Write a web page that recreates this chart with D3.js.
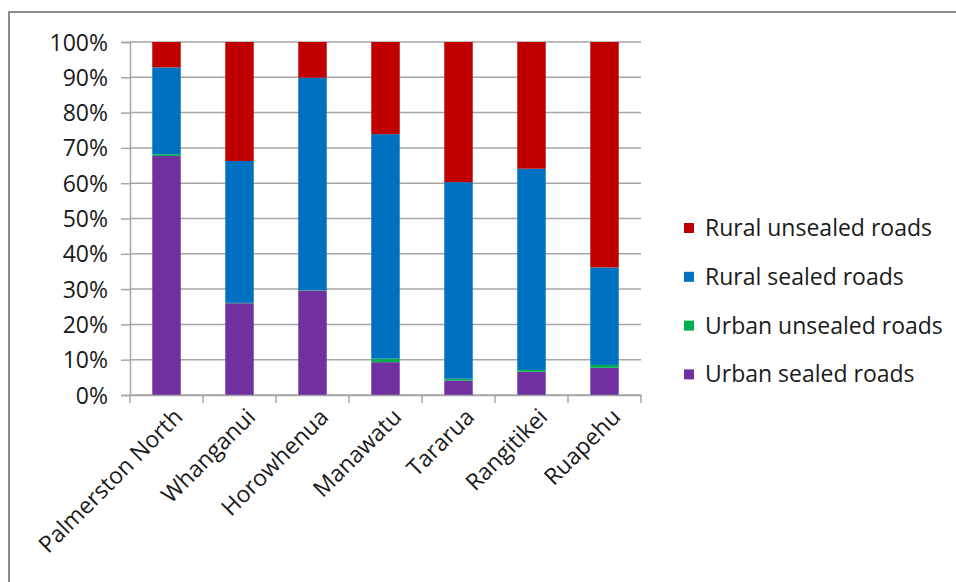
<!DOCTYPE html>
<html>
<head>
<meta charset="utf-8">
<script src="https://cdn.jsdelivr.net/npm/d3@7"></script>
<style>
  html, body { margin: 0; padding: 0; background: #fff; }
  svg { display: block; }
  text { font-family: "Open Sans", sans-serif; fill: #1a1a1a; }
</style>
</head>
<body>
<svg id="chart" width="956" height="582"></svg>
<script>
const categories = ["Palmerston North", "Whanganui", "Horowhenua", "Manawatu", "Tararua", "Rangitikei", "Ruapehu"];
const urbanSealed   = [67.7, 26.0, 29.6, 9.3, 4.1, 6.6, 7.7];
const urbanUnsealed = [0.5, 0.1, 0.1, 1.0, 0.5, 0.5, 0.8];
const ruralSealed   = [24.6, 40.2, 60.2, 63.6, 55.7, 57.0, 27.6];
const ruralUnsealed = [7.2, 33.7, 10.1, 26.1, 39.7, 35.9, 63.8];
const seriesNames = ["Urban sealed roads", "Urban unsealed roads", "Rural sealed roads", "Rural unsealed roads"];
const seriesColors = ["#7030A0", "#00B050", "#0070C0", "#C00000"];
const yTicks = [0, 0.1, 0.2, 0.3, 0.4, 0.5, 0.6, 0.7, 0.8, 0.9, 1.0];

const svg = d3.select("#chart");
const pLeft = 130, pRight = 641, pTop = 42, pBottom = 395;
const fs = "23px";

// outer chart border
svg.append("rect").attr("x", 9).attr("y", 12).attr("width", 1000).attr("height", 1000)
  .attr("fill", "none").attr("stroke", "#8a8a8a").attr("stroke-width", 2);

const seriesValues = [urbanSealed, urbanUnsealed, ruralSealed, ruralUnsealed];
const keys = ["us", "uu", "rs", "ru"];
const table = categories.map((c, i) => {
  const tot = seriesValues.reduce((s, a) => s + a[i], 0);
  const row = { cat: c };
  keys.forEach((k, j) => row[k] = seriesValues[j][i] / tot);
  return row;
});
const stacked = d3.stack().keys(keys)(table);

const x = d3.scaleBand().domain(categories).range([pLeft, pRight]).paddingInner(0.61).paddingOuter(0.305);
const y = d3.scaleLinear().domain([0, 1]).range([pBottom, pTop]);

// gridlines
svg.append("g").selectAll("line").data(yTicks).join("line")
  .attr("x1", pLeft).attr("x2", pRight)
  .attr("y1", d => y(d)).attr("y2", d => y(d))
  .attr("stroke", "#a6a6a6").attr("stroke-width", 1.5);

// y axis
const yAxis = svg.append("g").attr("transform", `translate(${pLeft},0)`)
  .call(d3.axisLeft(y).tickValues(yTicks).tickFormat(d3.format(".0%")).tickSizeOuter(0).tickSize(9).tickPadding(13));
yAxis.select(".domain").attr("stroke", "#a6a6a6").attr("stroke-width", 1.5);
yAxis.selectAll(".tick line").attr("stroke", "#a6a6a6").attr("stroke-width", 1.5);
yAxis.selectAll("text").style("font-size", fs).attr("fill", "#1a1a1a").attr("dy", "0.35em");

// bars
svg.append("g").selectAll("g").data(stacked).join("g")
  .attr("fill", (d, i) => seriesColors[i])
  .selectAll("rect").data(d => d).join("rect")
  .attr("x", d => x(d.data.cat))
  .attr("width", x.bandwidth())
  .attr("y", d => y(d[1]))
  .attr("height", d => y(d[0]) - y(d[1]));

// x axis
const xb = d3.scaleBand().domain(categories).range([pLeft, pRight]);
const xAxis = svg.append("g").attr("transform", `translate(0,${pBottom})`)
  .call(d3.axisBottom(xb).tickSize(0).tickSizeOuter(0));
xAxis.select(".domain").attr("stroke", "#a6a6a6").attr("stroke-width", 1.5);
// category boundary ticks
const boundaries = d3.range(categories.length + 1).map(i => pLeft + i * xb.step());
svg.append("g").selectAll("line").data(boundaries).join("line")
  .attr("x1", d => d).attr("x2", d => d).attr("y1", pBottom).attr("y2", pBottom + 8)
  .attr("stroke", "#a6a6a6").attr("stroke-width", 1.5);
xAxis.selectAll(".tick text")
  .style("font-size", fs).attr("fill", "#1a1a1a")
  .attr("text-anchor", "end")
  .attr("transform", "translate(6,12) rotate(-45)")
  .attr("dy", "0.7em").attr("y", 0).attr("x", 0);

// legend
const legendOrder = [3, 2, 1, 0];
const lg = svg.append("g").selectAll("g").data(legendOrder).join("g")
  .attr("transform", (d, i) => `translate(684,${228 + i * 48.8})`);
lg.append("rect").attr("x", 0).attr("y", -5).attr("width", 10).attr("height", 10)
  .attr("fill", d => seriesColors[d]);
lg.append("text").attr("x", 21).attr("y", 0).attr("dy", "0.35em")
  .style("font-size", fs).text(d => seriesNames[d]);
</script>
</body>
</html>
